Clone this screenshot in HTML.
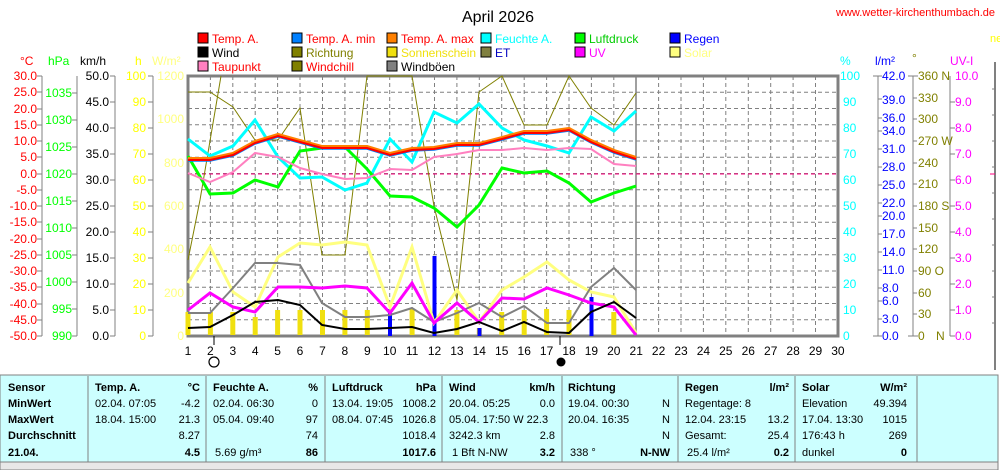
<!DOCTYPE html>
<html><head><meta charset="utf-8"><style>
html,body{margin:0;padding:0;background:#fff;width:1000px;height:470px;overflow:hidden}
svg{display:block;font-family:"Liberation Sans",sans-serif}
.t{font-size:12px}
</style></head><body>
<svg width="1000" height="470" viewBox="0 0 1000 470">
<rect width="1000" height="470" fill="#fff"/>
<text x="498" y="22" font-size="16" text-anchor="middle">April 2026</text>
<text x="995" y="16" font-size="11" fill="#ff0000" text-anchor="end">www.wetter-kirchenthumbach.de</text>
<text x="990" y="42" font-size="11" fill="#ffff00">ne</text>

<!-- legend -->
<g font-size="12" textLength="">
<rect x="198" y="33" width="10" height="10" fill="#f00" stroke="#000"/><text x="212" y="43" fill="#f00">Temp. A.</text>
<rect x="292" y="33" width="10" height="10" fill="#0080ff" stroke="#000"/><text x="306" y="43" fill="#f00">Temp. A. min</text>
<rect x="387" y="33" width="10" height="10" fill="#ff8000" stroke="#000"/><text x="401" y="43" fill="#f00">Temp. A. max</text>
<rect x="481" y="33" width="10" height="10" fill="#0ff" stroke="#000"/><text x="495" y="43" fill="#0ff">Feuchte A.</text>
<rect x="575" y="33" width="10" height="10" fill="#0f0" stroke="#000"/><text x="589" y="43" fill="#0c0">Luftdruck</text>
<rect x="670" y="33" width="10" height="10" fill="#00f" stroke="#000"/><text x="684" y="43" fill="#00f">Regen</text>
<rect x="198" y="47" width="10" height="10" fill="#000" stroke="#000"/><text x="212" y="57" fill="#000">Wind</text>
<rect x="292" y="47" width="10" height="10" fill="#808000" stroke="#000"/><text x="306" y="57" fill="#808000">Richtung</text>
<rect x="387" y="47" width="10" height="10" fill="#f0e010" stroke="#000"/><text x="401" y="57" fill="#f0e010" textLength="75">Sonnenschein</text>
<rect x="481" y="47" width="10" height="10" fill="#808040" stroke="#000"/><text x="495" y="57" fill="#0000c0">ET</text>
<rect x="575" y="47" width="10" height="10" fill="#f0f" stroke="#000"/><text x="589" y="57" fill="#f0f">UV</text>
<rect x="670" y="47" width="10" height="10" fill="#ffff80" stroke="#000"/><text x="684" y="57" fill="#ffff80">Solar</text>
<rect x="198" y="61" width="10" height="10" fill="#ff80c0" stroke="#000"/><text x="212" y="71" fill="#f00">Taupunkt</text>
<rect x="292" y="61" width="10" height="10" fill="#808000" stroke="#000"/><text x="306" y="71" fill="#f00">Windchill</text>
<rect x="387" y="61" width="10" height="10" fill="#808080" stroke="#000"/><text x="401" y="71" fill="#000">Windböen</text>
</g>

<!-- left axes -->
<g font-size="12">
<text x="20" y="65" fill="#f00">°C</text><text x="48" y="65" fill="#0f0">hPa</text><text x="80" y="65" fill="#000">km/h</text><text x="135" y="65" fill="#ff0">h</text><text x="152" y="65" fill="#ffff80">W/m²</text>
<line x1="42" y1="76" x2="42" y2="336" stroke="#808080"/>
<line x1="77" y1="76" x2="77" y2="336" stroke="#808080"/>
<line x1="115" y1="76" x2="115" y2="336" stroke="#808080"/>
<line x1="153" y1="76" x2="153" y2="336" stroke="#808080"/>
<g fill="#f00" text-anchor="end">
<text x="37" y="80">30.0</text><text x="37" y="96">25.0</text><text x="37" y="113">20.0</text><text x="37" y="129">15.0</text><text x="37" y="145">10.0</text><text x="37" y="161">5.0</text><text x="37" y="178">0.0</text><text x="37" y="194">-5.0</text><text x="37" y="210">-10.0</text><text x="37" y="226">-15.0</text><text x="37" y="243">-20.0</text><text x="37" y="259">-25.0</text><text x="37" y="275">-30.0</text><text x="37" y="291">-35.0</text><text x="37" y="308">-40.0</text><text x="37" y="324">-45.0</text><text x="37" y="340">-50.0</text>
</g>
<g stroke="#808080"><path d="M37 76h5M37 92h5M37 109h5M37 125h5M37 141h5M37 157h5M37 174h5M37 190h5M37 206h5M37 222h5M37 239h5M37 255h5M37 271h5M37 287h5M37 304h5M37 320h5M37 336h5"/>
<path d="M72 93h5M72 120h5M72 147h5M72 174h5M72 201h5M72 228h5M72 255h5M72 282h5M72 309h5M72 336h5"/>
<path d="M110 76h5M110 102h5M110 128h5M110 154h5M110 180h5M110 206h5M110 232h5M110 258h5M110 284h5M110 310h5M110 336h5"/>
<path d="M148 76h5M148 102h5M148 128h5M148 154h5M148 180h5M148 206h5M148 232h5M148 258h5M148 284h5M148 310h5M148 336h5"/>
</g>
<g fill="#0f0" text-anchor="end">
<text x="72" y="97">1035</text><text x="72" y="124">1030</text><text x="72" y="151">1025</text><text x="72" y="178">1020</text><text x="72" y="205">1015</text><text x="72" y="232">1010</text><text x="72" y="259">1005</text><text x="72" y="286">1000</text><text x="72" y="313">995</text><text x="72" y="340">990</text>
</g>
<g fill="#000" text-anchor="end">
<text x="109" y="80">50.0</text><text x="109" y="106">45.0</text><text x="109" y="132">40.0</text><text x="109" y="158">35.0</text><text x="109" y="184">30.0</text><text x="109" y="210">25.0</text><text x="109" y="236">20.0</text><text x="109" y="262">15.0</text><text x="109" y="288">10.0</text><text x="109" y="314">5.0</text><text x="109" y="340">0.0</text>
</g>
<g fill="#ff0" text-anchor="end">
<text x="146" y="80">100</text><text x="146" y="106">90</text><text x="146" y="132">80</text><text x="146" y="158">70</text><text x="146" y="184">60</text><text x="146" y="210">50</text><text x="146" y="236">40</text><text x="146" y="262">30</text><text x="146" y="288">20</text><text x="146" y="314">10</text><text x="146" y="340">0</text>
</g>
<g fill="#ffff80" text-anchor="end">
<text x="184" y="80">1200</text><text x="184" y="123">1000</text><text x="184" y="167">800</text><text x="184" y="210">600</text><text x="184" y="253">400</text><text x="184" y="297">200</text><text x="184" y="340">0</text>
</g>
</g>

<!-- grid -->
<g stroke="#808080" stroke-dasharray="4,3" stroke-width="1">
<path d="M188 92.3H838M188 108.5H838M188 124.8H838M188 141H838M188 157.3H838M188 173.5H838M188 189.8H838M188 206H838M188 222.3H838M188 238.5H838M188 254.8H838M188 271H838M188 287.3H838M188 303.5H838M188 319.8H838"/>
<path d="M210.4 76V336M232.8 76V336M255.2 76V336M277.6 76V336M300 76V336M322.5 76V336M344.9 76V336M367.3 76V336M389.7 76V336M412.1 76V336M434.5 76V336M456.9 76V336M479.3 76V336M501.7 76V336M524.2 76V336M546.6 76V336M569 76V336M591.4 76V336M613.8 76V336M658.6 76V336M681 76V336M703.4 76V336M725.8 76V336M748.3 76V336M770.7 76V336M793.1 76V336M815.5 76V336"/>
</g>
<line x1="636" y1="76" x2="636" y2="336" stroke="#808080" stroke-width="1.5"/>
<rect x="188" y="76" width="650" height="260" fill="none" stroke="#808080" stroke-width="3"/>
<line x1="188" y1="174" x2="838" y2="174" stroke="#ff0080" stroke-dasharray="4,3"/>

<!-- sunshine bars -->
<g stroke="#f0e010" stroke-width="5">
<path d="M188 335V312M210.4 335V312M232.8 335V312M255.2 335V317M277.6 335V310M300 335V310M322.5 335V310M344.9 335V310M367.3 335V310M412.1 335V309M456.9 335V310M479.3 335V328M501.7 335V312M524.2 335V310M546.6 335V309M569 335V310M613.8 335V312"/>
</g>
<!-- rain bars -->
<g fill="#0000ff">
<rect x="388" y="309" width="4" height="27"/><rect x="432.5" y="256" width="4" height="80"/><rect x="477.5" y="328" width="4" height="8"/><rect x="589.5" y="297" width="4" height="39"/>
</g>

<!-- olive direction lines -->
<polyline fill="none" stroke="#808000" stroke-width="1" points="188,92 210,92 233,107 255,140 278,140 300,108 322,255 345,255 367,76 390,76 412,76 434,206 457,300 479,92 502,76 524,125 547,125 569,76 591,108 614,125 636,93"/>
<polyline fill="none" stroke="#808000" stroke-width="1" points="188,260 200,200 221,76"/>

<!-- solar -->
<polyline fill="none" stroke="#ffff80" stroke-width="3" points="188,283 210,247 233,292 255,307 278,257 300,243 322,245 345,242 367,245 390,307 412,247 434,323 457,290 479,322 502,290 524,277 547,262 569,280 591,292 614,297 636,333"/>
<!-- gusts -->
<polyline fill="none" stroke="#808080" stroke-width="2" points="188,313 210,313 233,288 255,263 278,263 300,265 322,303 345,317 367,317 390,315 412,308 434,322 457,313 479,303 502,317 524,306 547,323 569,323 591,287 614,268 636,290"/>
<!-- UV -->
<polyline fill="none" stroke="#ff00ff" stroke-width="3" points="188,310 210,293 233,307 255,312 278,287 300,287 322,288 345,286 367,288 390,313 412,283 434,323 457,303 479,322 502,298 524,299 547,288 569,295 591,303 614,307 636,335"/>
<!-- wind -->
<polyline fill="none" stroke="#000" stroke-width="2" points="188,328 210,327 233,315 255,302 278,300 300,305 322,325 345,329 367,329 390,328 412,327 434,333 457,329 479,322 502,331 524,322 547,332 569,333 591,312 614,302 636,318"/>

<!-- humidity -->
<polyline fill="none" stroke="#00ffff" stroke-width="3" points="188,139 210,156 233,146 255,120 278,157 300,178 322,177 345,190 367,183 390,139 412,162 434,112 457,123 479,104 502,128 524,140 547,146 569,153 591,117 614,131 636,111"/>
<!-- pressure -->
<polyline fill="none" stroke="#00ff00" stroke-width="3" points="188,156 210,194 233,193 255,180 278,187 300,151 322,148 345,147 367,169 390,196 412,197 434,208 457,227 479,205 502,168 524,173 547,171 569,183 591,202 614,193 636,186"/>
<!-- dew point -->
<polyline fill="none" stroke="#ff80c0" stroke-width="2" points="188,173 210,182 233,172 255,153 278,157 300,168 322,174 345,179 367,178 390,169 412,170 434,157 457,154 479,150 502,150 524,148 547,150 569,148 591,149 614,164 636,166"/>
<!-- temp -->
<polyline fill="none" stroke="#ff8000" stroke-width="4" points="188,159 210,159 233,154 255,142 278,135 300,141 322,147 345,147 367,147 390,154 412,149 434,148 457,144 479,144 502,138 524,132 547,132 569,129 591,141 614,151 636,158"/>
<polyline fill="none" stroke="#0080ff" stroke-width="1.5" points="188,161 210,161 233,156 255,144 278,137 300,143 322,149 345,149 367,149 390,156 412,151 434,150 457,146 479,146 502,140 524,134 547,134 569,131 591,143 614,153 636,160"/>
<polyline fill="none" stroke="#ff0000" stroke-width="2" points="188,160 210,160 233,155 255,143 278,136 300,142 322,148 345,148 367,148 390,155 412,150 434,149 457,145 479,145 502,139 524,133 547,133 569,130 591,142 614,152 636,159"/>

<!-- x labels -->
<g class="t" text-anchor="middle" fill="#000">
<text x="188" y="355">1</text><text x="210.4" y="355">2</text><text x="232.8" y="355">3</text><text x="255.2" y="355">4</text><text x="277.6" y="355">5</text><text x="300" y="355">6</text><text x="322.5" y="355">7</text><text x="344.9" y="355">8</text><text x="367.3" y="355">9</text><text x="389.7" y="355">10</text><text x="412.1" y="355">11</text><text x="434.5" y="355">12</text><text x="456.9" y="355">13</text><text x="479.3" y="355">14</text><text x="501.7" y="355">15</text><text x="524.2" y="355">16</text><text x="546.6" y="355">17</text><text x="569" y="355">18</text><text x="591.4" y="355">19</text><text x="613.8" y="355">20</text><text x="636.2" y="355">21</text><text x="658.6" y="355">22</text><text x="681" y="355">23</text><text x="703.4" y="355">24</text><text x="725.8" y="355">25</text><text x="748.3" y="355">26</text><text x="770.7" y="355">27</text><text x="793.1" y="355">28</text><text x="815.5" y="355">29</text><text x="837.9" y="355">30</text>
</g>
<line x1="214" y1="336" x2="214" y2="345" stroke="#000"/><line x1="560" y1="336" x2="560" y2="345" stroke="#000"/>
<circle cx="214" cy="362" r="5" fill="#fff" stroke="#000" stroke-width="1.2"/>
<circle cx="561" cy="362" r="4.5" fill="#000"/>

<!-- right axes -->
<g font-size="12">
<text x="840" y="65" fill="#0ff">%</text><text x="875" y="65" fill="#00f">l/m²</text><text x="912" y="62" fill="#808000">°</text><text x="950" y="65" fill="#f0f">UV-I</text>
<g fill="#0ff"><text x="840" y="80">100</text><text x="843" y="106">90</text><text x="843" y="132">80</text><text x="843" y="158">70</text><text x="843" y="184">60</text><text x="843" y="210">50</text><text x="843" y="236">40</text><text x="843" y="262">30</text><text x="843" y="288">20</text><text x="843" y="314">10</text><text x="843" y="340">0</text></g>
<line x1="878" y1="76" x2="878" y2="336" stroke="#808080"/>
<line x1="913" y1="76" x2="913" y2="336" stroke="#808080"/>
<line x1="950" y1="76" x2="950" y2="336" stroke="#808080"/>
<g stroke="#808080"><path d="M873 76h9M878 99h4M878 118h4M878 131h4M878 149h4M878 167h4M878 185h4M878 203h4M878 216h4M878 234h4M878 252h4M878 270h4M878 288h4M878 301h4M878 319h4M873 336h9"/>
<path d="M908 76h10M913 98h4M913 119h4M913 141h4M913 163h4M913 184h4M913 206h4M913 228h4M913 249h4M913 271h4M913 293h4M913 314h4M908 336h10"/>
<path d="M950 102h5M950 128h5M950 154h5M950 180h5M950 206h5M950 232h5M950 258h5M950 284h5M950 310h5M950 336h5"/></g>
<g fill="#00f"><text x="882" y="80">42.0</text><text x="882" y="104">39.0</text><text x="882" y="122">36.0</text><text x="882" y="135">34.0</text><text x="882" y="153">31.0</text><text x="882" y="171">28.0</text><text x="882" y="189">25.0</text><text x="882" y="207">22.0</text><text x="882" y="220">20.0</text><text x="882" y="238">17.0</text><text x="882" y="256">14.0</text><text x="882" y="274">11.0</text><text x="882" y="292">8.0</text><text x="882" y="305">6.0</text><text x="882" y="323">3.0</text><text x="882" y="340">0.0</text></g>
<g fill="#808000"><text x="918" y="80">360 N</text><text x="918" y="102">330</text><text x="918" y="123">300</text><text x="918" y="145">270 W</text><text x="918" y="167">240</text><text x="918" y="188">210</text><text x="918" y="210">180 S</text><text x="918" y="232">150</text><text x="918" y="253">120</text><text x="918" y="275">90  O</text><text x="918" y="297">60</text><text x="918" y="318">30</text><text x="918" y="340">0</text><text x="936" y="340">N</text></g>
<g fill="#f0f"><text x="955" y="80">10.0</text><text x="955" y="106">9.0</text><text x="955" y="132">8.0</text><text x="955" y="158">7.0</text><text x="955" y="184">6.0</text><text x="955" y="210">5.0</text><text x="955" y="236">4.0</text><text x="955" y="262">3.0</text><text x="955" y="288">2.0</text><text x="955" y="314">1.0</text><text x="955" y="340">0.0</text></g>
</g>
<line x1="995" y1="62" x2="995" y2="370" stroke="#808080" stroke-width="2"/>
<g stroke="#808080"><path d="M992 89h3M992 115h3M992 141h3M992 167h3M992 193h3M992 219h3M992 245h3M992 271h3M992 297h3M992 323h3"/></g>
<line x1="990" y1="174" x2="995" y2="174" stroke="#ff0080"/>

<!-- table -->
<rect x="0" y="375" width="998" height="87" fill="#ccffff" stroke="#808080"/>
<g stroke="#808080"><path d="M88 376V462M206 376V462M325 376V462M442 376V462M562 376V462M678 376V462M795 376V462M917 376V462"/></g>
<rect x="0" y="462" width="998" height="8" fill="#e8e8e8" stroke="#808080"/>
<g font-size="11" font-family="'Liberation Sans Narrow','Liberation Sans',sans-serif" fill="#000">
<g font-weight="bold"><text x="8" y="391">Sensor</text><text x="8" y="407">MinWert</text><text x="8" y="423">MaxWert</text><text x="8" y="439">Durchschnitt</text><text x="8" y="456">21.04.</text>
<text x="95" y="391">Temp. A.</text><text x="200" y="391" text-anchor="end">°C</text>
<text x="213" y="391">Feuchte A.</text><text x="318" y="391" text-anchor="end">%</text>
<text x="332" y="391">Luftdruck</text><text x="436" y="391" text-anchor="end">hPa</text>
<text x="449" y="391">Wind</text><text x="555" y="391" text-anchor="end">km/h</text>
<text x="568" y="391">Richtung</text>
<text x="685" y="391">Regen</text><text x="789" y="391" text-anchor="end">l/m²</text>
<text x="802" y="391">Solar</text><text x="907" y="391" text-anchor="end">W/m²</text>
<text x="200" y="456" text-anchor="end">4.5</text><text x="318" y="456" text-anchor="end">86</text><text x="436" y="456" text-anchor="end">1017.6</text><text x="555" y="456" text-anchor="end">3.2</text><text x="670" y="456" text-anchor="end">N-NW</text><text x="789" y="456" text-anchor="end">0.2</text><text x="907" y="456" text-anchor="end">0</text></g>
<text x="95" y="407">02.04.  07:05</text><text x="200" y="407" text-anchor="end">-4.2</text>
<text x="95" y="423">18.04.  15:00</text><text x="200" y="423" text-anchor="end">21.3</text>
<text x="200" y="439" text-anchor="end">8.27</text>
<text x="213" y="407">02.04.  06:30</text><text x="318" y="407" text-anchor="end">0</text>
<text x="213" y="423">05.04.  09:40</text><text x="318" y="423" text-anchor="end">97</text>
<text x="318" y="439" text-anchor="end">74</text><text x="215" y="456">5.69 g/m³</text>
<text x="332" y="407">13.04.  19:05</text><text x="436" y="407" text-anchor="end">1008.2</text>
<text x="332" y="423">08.04.  07:45</text><text x="436" y="423" text-anchor="end">1026.8</text>
<text x="436" y="439" text-anchor="end">1018.4</text>
<text x="449" y="407">20.04.  05:25</text><text x="555" y="407" text-anchor="end">0.0</text>
<text x="449" y="423">05.04.  17:50  W 22.3</text>
<text x="449" y="439">3242.3 km</text><text x="555" y="439" text-anchor="end">2.8</text>
<text x="452" y="456">1 Bft N-NW</text>
<text x="568" y="407">19.04.  00:30</text><text x="670" y="407" text-anchor="end">N</text>
<text x="568" y="423">20.04.  16:35</text><text x="670" y="423" text-anchor="end">N</text>
<text x="670" y="439" text-anchor="end">N</text><text x="570" y="456">338 °</text>
<text x="685" y="407">Regentage: 8</text>
<text x="685" y="423">12.04.  23:15</text><text x="789" y="423" text-anchor="end">13.2</text>
<text x="685" y="439">Gesamt:</text><text x="789" y="439" text-anchor="end">25.4</text>
<text x="687" y="456">25.4 l/m²</text>
<text x="802" y="407">Elevation</text><text x="907" y="407" text-anchor="end">49.394</text>
<text x="802" y="423">17.04.  13:30</text><text x="907" y="423" text-anchor="end">1015</text>
<text x="802" y="439">176:43 h</text><text x="907" y="439" text-anchor="end">269</text>
<text x="802" y="456">dunkel</text>
</g>
</svg>
</body></html>
